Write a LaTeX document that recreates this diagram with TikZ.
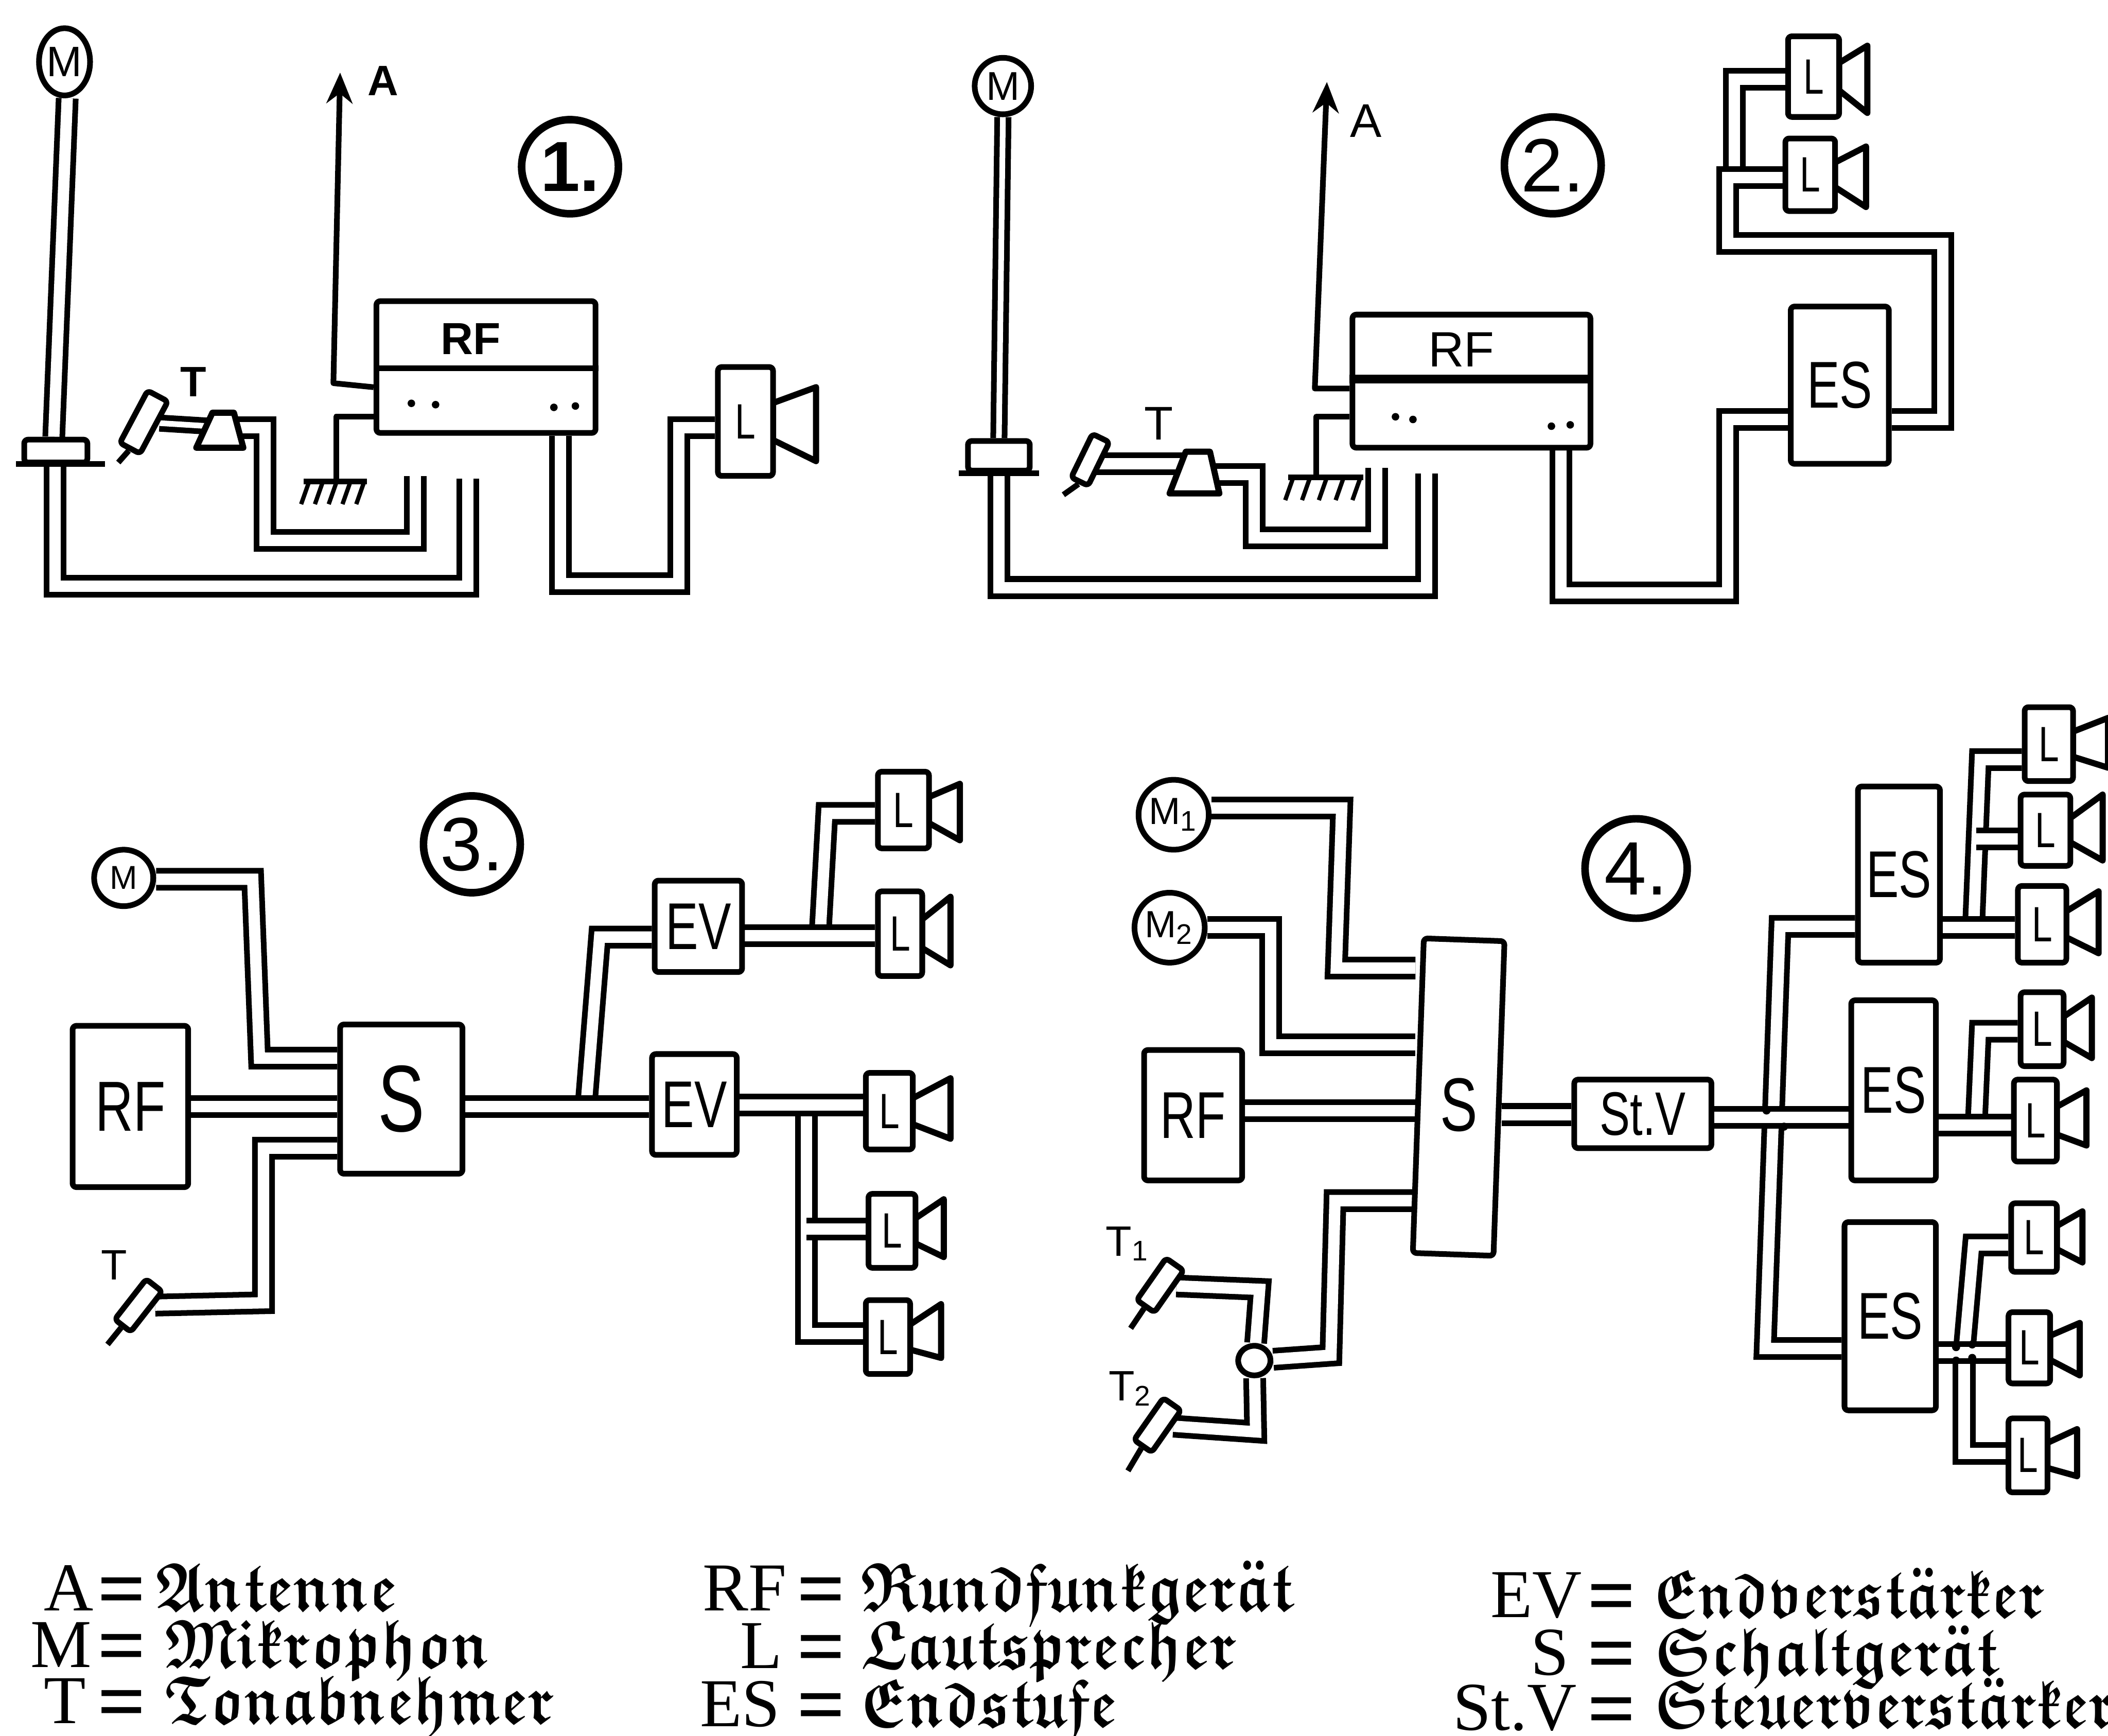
\documentclass[tikz,border=0pt]{standalone}
\usepackage{amsmath}
\usepackage{amssymb}
\usepackage{fontspec}
\setmainfont{Liberation Serif}
\newfontfamily\handfont{Liberation Sans}
\usetikzlibrary{backgrounds,arrows.meta,shapes.geometric}
\tikzset{
  stk/.style={line width=1.2pt,line join=round,line cap=round},
  boxn/.style={draw,fill=white,stk,inner sep=0pt,rounded corners=0.8pt,font=\handfont},
  elln/.style={draw,fill=white,stk,ellipse,inner sep=0pt,font=\handfont},
  numc/.style={elln,line width=1.6pt},
  wire/.style={line width=1.2pt,double=white,double distance=2.4pt},
  fine/.style={line width=1.2pt,line join=round},
  labn/.style={font=\handfont,inner sep=0pt},
  legl/.style={anchor=base west,inner sep=0pt},
  legf/.style={anchor=base west,inner sep=0pt},
  horn/.style={stk,fill=white,line width=1.3pt},
  antarrow/.style={-{Stealth[length=6.5pt,width=5.5pt]},fine},
}
\newcommand\hnd[1]{\scalebox{0.74}[1]{#1}}
\newcommand\bxn[7]{\node[boxn,minimum width={(#4-#2)*0.01cm},minimum height={(#5-#3)*0.01cm}] (#1) at ({(#2+#4)/2},{(#3+#5)/2}) {\fontsize{#6}{#6}\selectfont\hnd{#7}};}
\newcommand\ccn[7]{\node[#7,minimum width={2*#4*0.01cm},minimum height={2*#5*0.01cm}] (#1) at (#2,#3) {\fontsize{#6}{#6}\selectfont\csname cctext\endcsname};}
\newcommand\spk[8]{%
  \pgfmathsetmacro\spkh{#5-#3}\pgfmathsetmacro\spkc{(#3+#5)/2}%
  \draw[horn] (#4,{\spkc-0.17*\spkh}) -- (#6,#7) -- (#6,#8) -- (#4,{\spkc+0.17*\spkh}) -- cycle;
  \bxn{#1}{#2}{#3}{#4}{#5}{10.5}{L}}
\newcommand\cart[6]{\node[boxn,rotate=#4,minimum width={#5*0.01cm},minimum height={#6*0.01cm}] (#1) at (#2,#3) {};}
\newcommand\gnd[3]{% x1 x2 y
  \draw[fine] (#1,#3) -- (#2,#3);
  \foreach \gi in {0,1,2,3,4} {\draw[fine,line width=0.9pt] ({#1+4+\gi*(#2-#1-6)/4},#3) -- ++(-6,17);}}
\newcommand\lgl[5]{\node[legl] (#4a) at (#1,#3) {\fontsize{14.5}{14.5}\selectfont #5};}
\newcommand\eqn[3]{\node[legl,yshift=-0.05cm] (#3) at (#1,#2) {\fontsize{18}{18}\selectfont\bfseries =};}
\newcommand\fk[5][0.85]{\node[legf] (#4) at (#2,#3) {\fontsize{14.5}{14.5}\selectfont\scalebox{#1}[1]{\boldmath$\mathfrak{#5}$}};}
\begin{document}
\begin{tikzpicture}[x=0.01cm,y=-0.01cm]
\useasboundingbox (0,0) rectangle (1568,1291);

%%% DIAGRAM 1
\def\cctext{M}\ccn{m1}{48}{46}{19}{25}{9}{elln}
\bxn{st1}{18}{327}{65}{344}{6}{}
\draw[fine] (12,345) -- (78,345);
\bxn{rf1}{280}{224}{443}{322}{10}{}
\draw[fine] (rf1.west |- 0,274) -- (rf1.east |- 0,274);
\node[labn] (rf1t) at (350,252) {\fontsize{9.5}{9.5}\selectfont\bfseries RF};
\foreach \dx/\dy in {306/300,324/301,412/303,428/302} \fill (\dx,\dy) circle (2.8);
\cart{tc1}{107}{314}{62}{44}{17}
\draw[fine] (tc1.west) -- (88,344);
\coordinate (cone1) at (172,318);
\draw[horn] (158,307) -- (174,307) -- (181,333) -- (146,333) -- cycle;
\node[labn] (t1) at (144,284) {\fontsize{9}{9}\selectfont\bfseries T};
\spk{l1}{534}{273}{575}{354}{607}{288}{343}
\node[labn] (a1) at (285,60) {\fontsize{9}{9}\selectfont\bfseries A};
\def\cctext{\bfseries 1.}\ccn{n1}{424}{124}{36}{35}{15}{numc}
\gnd{226}{273}{358}
\coordinate (ant1) at (253,54);
\coordinate (gnd1) at (250,358);

%%% DIAGRAM 2
\def\cctext{M}\ccn{m2}{746}{64}{21}{21}{8.5}{elln}
\bxn{st2}{720}{328}{766}{350}{6}{}
\draw[fine] (713,352) -- (773,352);
\bxn{rf2}{1006}{234}{1183}{333}{10}{}
\draw[fine,line width=1.8pt] (rf2.west |- 0,282) -- (rf2.east |- 0,282);
\node[labn] (rf2t) at (1087,260) {\fontsize{10.5}{10.5}\selectfont RF};
\foreach \dx/\dy in {1038/310,1051/312,1154/317,1168/316} \fill (\dx,\dy) circle (2.8);
\cart{tc2}{811}{342}{64}{36}{14}
\draw[fine] (tc2.west) -- (791,368);
\coordinate (cone2) at (900,353);
\draw[horn] (882,336) -- (900,336) -- (907,367) -- (870,367) -- cycle;
\node[labn] (t2) at (862,315) {\fontsize{10}{10}\selectfont T};
\node[labn] (a2) at (1016,90) {\fontsize{10}{10}\selectfont A};
\bxn{es2}{1332}{228}{1405}{345}{14}{ES}
\spk{l21}{1330}{27}{1368}{87}{1389}{34}{84}
\spk{l22}{1328}{103}{1365}{157}{1388}{109}{154}
\def\cctext{2.}\ccn{n2}{1155}{123}{36}{36}{16}{numc}
\gnd{958}{1014}{355}
\coordinate (ant2) at (987,61);

%%% DIAGRAM 3
\def\cctext{M}\ccn{m3}{92}{653}{22}{21}{7}{elln}
\bxn{rf3}{54}{763}{140}{883}{15}{RF}
\bxn{s3}{253}{762}{344}{873}{20}{S}
\cart{tc3}{103}{971}{52}{38}{15}
\draw[fine] (tc3.west) -- (80,1000);
\node[labn] (t3) at (85,941) {\fontsize{9}{9}\selectfont T};
\bxn{ev31}{487}{655}{552}{723}{14}{EV}
\bxn{ev32}{485}{784}{548}{859}{14}{EV}
\spk{l31}{653}{574}{691}{631}{714}{583}{625}
\spk{l32}{653}{663}{686}{726}{707}{667}{718}
\spk{l33}{644}{798}{679}{855}{707}{802}{847}
\spk{l34}{646}{888}{681}{943}{702}{892}{935}
\spk{l35}{644}{967}{677}{1022}{700}{970}{1010}
\def\cctext{3.}\ccn{n3}{351}{628}{36}{36}{16}{numc}

%%% DIAGRAM 4
\def\cctext{M\textsubscript{1}}\ccn{m41}{873}{606}{25}{26}{8}{elln}
\def\cctext{M\textsubscript{2}}\ccn{m42}{870}{690}{25}{26}{8}{elln}
\bxn{rf4}{851}{781}{924}{878}{14}{RF}
\node[boxn,rotate=-2,minimum width={0.6cm},minimum height={2.34cm}] (s4) at (1085,816) {};
\node[labn] (s4t) at (1085,822) {\fontsize{16}{16}\selectfont\hnd{S}};
\bxn{stv}{1171}{803}{1273}{854}{13}{St.V}
\bxn{es41}{1382}{585}{1443}{716}{14}{ES}
\bxn{es42}{1377}{744}{1440}{878}{14}{ES}
\bxn{es43}{1372}{909}{1440}{1049}{14}{ES}
\cart{tc41}{863}{956}{55}{38}{16}
\draw[fine] (tc41.west) -- (841,988);
\cart{tc42}{861}{1060}{55}{38}{16}
\draw[fine] (tc42.west) -- (839,1094);
\node[labn] (t41) at (839,925) {\fontsize{9}{9}\selectfont T\textsubscript{1}};
\node[labn] (t42) at (841,1033) {\fontsize{9}{9}\selectfont T\textsubscript{2}};
\def\cctext{}\ccn{jn}{933}{1012}{12}{11}{5}{elln}
\spk{l41}{1506}{526}{1542}{581}{1568}{534}{571}
\spk{l42}{1503}{591}{1540}{644}{1564}{591}{640}
\spk{l43}{1501}{659}{1537}{716}{1561}{663}{709}
\spk{l44}{1503}{738}{1535}{793}{1556}{742}{787}
\spk{l45}{1498}{803}{1530}{864}{1552}{811}{852}
\spk{l46}{1496}{895}{1530}{946}{1549}{901}{939}
\spk{l47}{1494}{976}{1525}{1029}{1547}{984}{1023}
\spk{l48}{1494}{1055}{1523}{1110}{1545}{1063}{1098}
\def\cctext{4.}\ccn{n4}{1217}{646}{38}{37}{16}{numc}

%%% CONNECTORS (behind the boxes)
\begin{scope}[on background layer]
\fill[white] (0,0) rectangle (1568,1291);
% 1
\draw[wire] (50,0 |- m1.south) -- (40,0 |- st1.north);
\draw[wire] (41,0 |- st1.south) -- (41,436) -- (348,436) -- (348,356);
\draw[wire,double distance=1.2pt] (tc1) -- (cone1);
\draw[wire] (cone1) -- (197,318) -- (197,402) -- (309,402) -- (309,354);
\draw[wire] (417,0 |- rf1.south) -- (417,434) -- (505,434) -- (505,318) -- (l1.west |- 0,318);
\draw[antarrow] (rf1.west |- 0,288) -- (248,285) -- (ant1);
\draw[fine] (rf1.west |- 0,310) -- (250,310) -- (gnd1);
% 2
\draw[wire,double distance=1.2pt] (746,0 |- m2.south) -- (743,0 |- st2.north);
\draw[wire] (743,0 |- st2.south) -- (743,437) -- (1061,437) -- (1061,352);
\draw[wire] (tc2 |- 0,345) -- (880,345);
\draw[wire] (cone2) -- (933,353) -- (933,400) -- (1024,400) -- (1024,348);
\draw[antarrow] (rf2.west |- 0,289) -- (978,289) -- (ant2);
\draw[fine] (rf2.west |- 0,310) -- (979,310) -- (979,355);
\draw[wire] (1161,0 |- rf2.south) -- (1161,441) -- (1285,441) -- (1285,312) -- (es2.west |- 0,312);
\draw[wire] (l21.west |- 0,59) -- (1290,59) -- (1290,132);
\draw[wire] (es2.east |- 0,312) -- (1445,312) -- (1445,181) -- (1285,181) -- (1285,132) -- (l22.west |- 0,132);
% 3
\draw[wire] (m3.east |- 0,654) -- (188,654) -- (193,787) -- (s3.west |- 0,787);
\draw[wire] (rf3.east |- 0,823) -- (s3.west |- 0,823);
\draw[wire] (s3.west |- 0,854) -- (196,854) -- (196,969) -- (tc3);
\draw[wire] (436,822) -- (446,697) -- (ev31.west |- 0,697);
\draw[wire] (s3.east |- 0,823) -- (ev32.west |- 0,823);
\draw[wire] (610,696) -- (615,605) -- (l31.west |- 0,605);
\draw[wire] (ev31.east |- 0,696) -- (l32.west |- 0,696);
\draw[wire] (600,824) -- (600,992) -- (l35.west |- 0,992);
\draw[wire] (600,914) -- (l34.west |- 0,914);
\draw[wire] (ev32.east |- 0,822) -- (l33.west |- 0,822);
% 4
\draw[wire] (m41.east |- 0,601) -- (998,601) -- (994,720) -- (s4.west |- 0,720);
\draw[wire] (m42.east |- 0,690) -- (945,690) -- (945,777) -- (s4.west |- 0,777);
\draw[wire] (rf4.east |- 0,826) -- (s4.west |- 0,826);
\draw[wire] (s4.west |- 0,893) -- (993,893) -- (990,1008) -- (jn);
\draw[wire] (jn) -- (937,959) -- (tc41);
\draw[wire] (jn) -- (934,1065) -- (tc42);
\draw[wire] (s4.east |- 0,829) -- (stv.west |- 0,829);
\draw[wire] (es41.west |- 0,689) -- (1324,689) -- (1313,1003) -- (es43.west |- 0,1003);
\draw[wire] (stv.east |- 0,831) -- (es42.west |- 0,831);
\draw[wire] (1468,690) -- (1473,565) -- (l41.west |- 0,565);
\draw[wire] (1470,624) -- (l42.west |- 0,624);
\draw[wire] (es41.east |- 0,690) -- (l43.west |- 0,690);
\draw[wire] (1470,837) -- (1473,767) -- (l44.west |- 0,767);
\draw[wire] (es42.east |- 0,837) -- (l45.west |- 0,837);
\draw[wire] (1461,1006) -- (1468,926) -- (l46.west |- 0,926);
\draw[wire] (1461,1006) -- (1461,1081) -- (l48.west |- 0,1081);
\draw[wire] (es43.east |- 0,1006) -- (l47.west |- 0,1006);
\end{scope}
\foreach \dx/\dy in {1314/826,1327/838,1455/1002,1467/1010,1455/1012,1467/1000} \fill (\dx,\dy) circle (3);

%%% LEGEND
\lgl{32}{}{1198}{la}{A}\eqn{72}{1198}{ea}\fk{115}{1198}{fa}{Antenne}
\lgl{22}{}{1240}{lm}{M}\eqn{72}{1240}{em}\fk{122}{1240}{fm}{Mikrophon}
\lgl{32}{}{1282}{lt}{T}\eqn{72}{1282}{et}\fk[0.83]{122}{1282}{ft}{Tonabnehmer}
\lgl{522}{}{1198}{lr}{RF}\eqn{592}{1198}{er}\fk{640}{1198}{fr}{Rundfunkger\ddot{a}t}
\lgl{550}{}{1241}{ll}{L}\eqn{592}{1241}{el}\fk{640}{1241}{fl}{Lautsprecher}
\lgl{520}{}{1284}{ls}{ES}\eqn{592}{1284}{es}\fk{640}{1284}{fs}{Endstufe}
\lgl{1108}{}{1203}{lv}{EV}\eqn{1180}{1203}{ev}\fk[0.82]{1230}{1203}{fv}{Endverst\ddot{a}rker}
\lgl{1138}{}{1246}{lx}{S}\eqn{1180}{1246}{ex}\fk{1230}{1246}{fx}{Schaltger\ddot{a}t}
\lgl{1080}{}{1287}{ly}{St.V}\eqn{1180}{1287}{ey}\fk[0.81]{1230}{1285}{fy}{Steuerverst\ddot{a}rker}
\end{tikzpicture}
\end{document}
